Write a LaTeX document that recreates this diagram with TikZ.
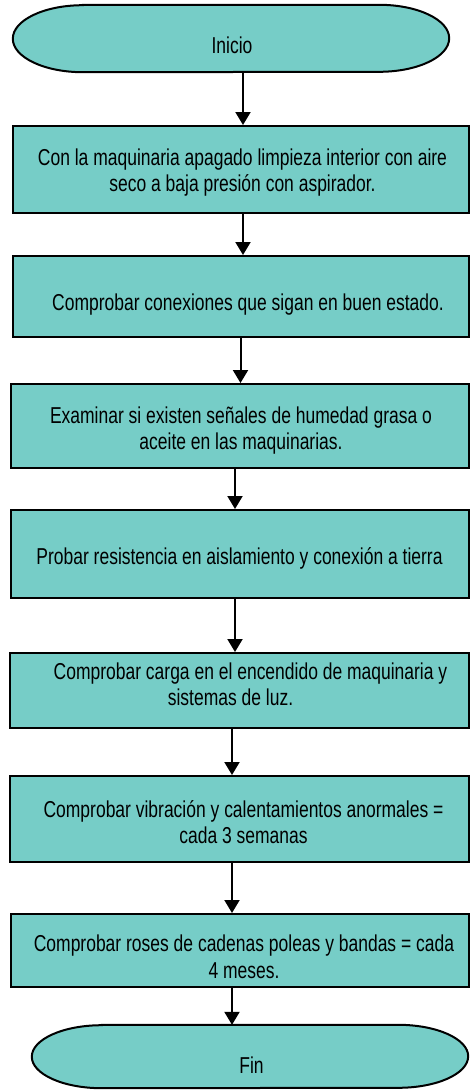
\documentclass[tikz,border=0pt]{standalone}
\usepackage{fontspec}
\setmainfont[FakeStretch=0.76]{Liberation Sans}
\usetikzlibrary{arrows.meta,backgrounds,calc}
\definecolor{boxfill}{HTML}{76CDC7}
\newcommand\twol[2]{\begin{tabular}[t]{@{}c@{}}#1\\#2\end{tabular}}
\begin{document}
\begin{tikzpicture}[x=1pt,y=1pt,
  stepbox/.style={draw=black,line width=2.4pt,fill=boxfill,inner sep=0pt,anchor=north west},
  termshape/.style={draw=black,line width=2pt,fill=boxfill},
  termnode/.style={inner sep=0pt},
  txt/.style={font=\fontsize{23}{26.6}\selectfont,anchor=base,inner sep=0pt},
  arr/.style={line width=2pt,-{Triangle[width=15pt,length=13pt]}}]
\useasboundingbox (0,0) rectangle (470,-1090);

% terminals (invisible anchors, shapes drawn on background)
\node[termnode,minimum width=436pt,minimum height=67pt] (ini) at (231,-38.5) {};
\node[termnode,minimum width=436pt,minimum height=63pt] (fin) at (250,-1056.5) {};
\begin{scope}[on background layer]
\fill[white] (0,0) rectangle (470,-1090);
\draw[termshape] ($(ini.north west)+(70,0)$) -- ($(ini.north east)+(-70,0)$)
  arc[start angle=90,end angle=-90,x radius=70,y radius=33.5]
  -- ($(ini.south west)+(70,0)$)
  arc[start angle=270,end angle=90,x radius=70,y radius=33.5] -- cycle;
\draw[termshape] ($(fin.north west)+(70,0)$) -- ($(fin.north east)+(-70,0)$)
  arc[start angle=90,end angle=-90,x radius=70,y radius=31.5]
  -- ($(fin.south west)+(70,0)$)
  arc[start angle=270,end angle=90,x radius=70,y radius=31.5] -- cycle;
\end{scope}

% process boxes
\node[stepbox,minimum width=456pt,minimum height=87pt] (b1) at (12,-125) {};
\node[stepbox,minimum width=456pt,minimum height=81pt] (b2) at (12,-255) {};
\node[stepbox,minimum width=458pt,minimum height=84pt] (b3) at (10,-383) {};
\node[stepbox,minimum width=458pt,minimum height=88pt] (b4) at (10,-509) {};
\node[stepbox,minimum width=459pt,minimum height=75pt] (b5) at (9,-652) {};
\node[stepbox,minimum width=459pt,minimum height=86pt] (b6) at (9,-775) {};
\node[stepbox,minimum width=458pt,minimum height=73pt] (b7) at (10,-913) {};

% texts
\node[txt] (t0) at (232,-53) {Inicio};
\node[txt] (t1) at (242.5,-165) {\twol{Con la maquinaria apagado limpieza interior con aire}{seco a baja presión con aspirador.}};
\node[txt] (t2) at (248,-310) {Comprobar conexiones que sigan en buen estado.};
\node[txt] (t3) at (241,-423) {\twol{Examinar si existen señales de humedad grasa o}{aceite en las maquinarias.}};
\node[txt] (t4) at (239.5,-564) {Probar resistencia en aislamiento y conexión a tierra};
\node[txt] (t5) at (250.5,-679) {\twol{Comprobar carga en el encendido de maquinaria y}{sistemas de luz.\hspace*{40pt}}};
\node[txt] (t6) at (243.5,-817) {\twol{Comprobar vibración y calentamientos anormales =}{cada 3 semanas}};
\node[txt] (t7) at (244,-951.7) {\twol{Comprobar roses de cadenas poleas y bandas = cada}{4 meses.}};
\node[txt] (t8) at (251.5,-1073) {Fin};

% arrow columns
\coordinate (c0) at (243,0);
\coordinate (c1) at (243,0);
\coordinate (c2) at (240.5,0);
\coordinate (c3) at (235,0);
\coordinate (c4) at (235,0);
\coordinate (c5) at (232,0);
\coordinate (c6) at (232,0);
\coordinate (c7) at (232,0);

\draw[arr] (ini.south -| c0) -- (b1.north -| c0);
\draw[arr] (b1.south -| c1) -- (b2.north -| c1);
\draw[arr] (b2.south -| c2) -- (b3.north -| c2);
\draw[arr] (b3.south -| c3) -- (b4.north -| c3);
\draw[arr] (b4.south -| c4) -- (b5.north -| c4);
\draw[arr] (b5.south -| c5) -- (b6.north -| c5);
\draw[arr] (b6.south -| c6) -- (b7.north -| c6);
\draw[arr] (b7.south -| c7) -- (fin.north -| c7);
\end{tikzpicture}
\end{document}
